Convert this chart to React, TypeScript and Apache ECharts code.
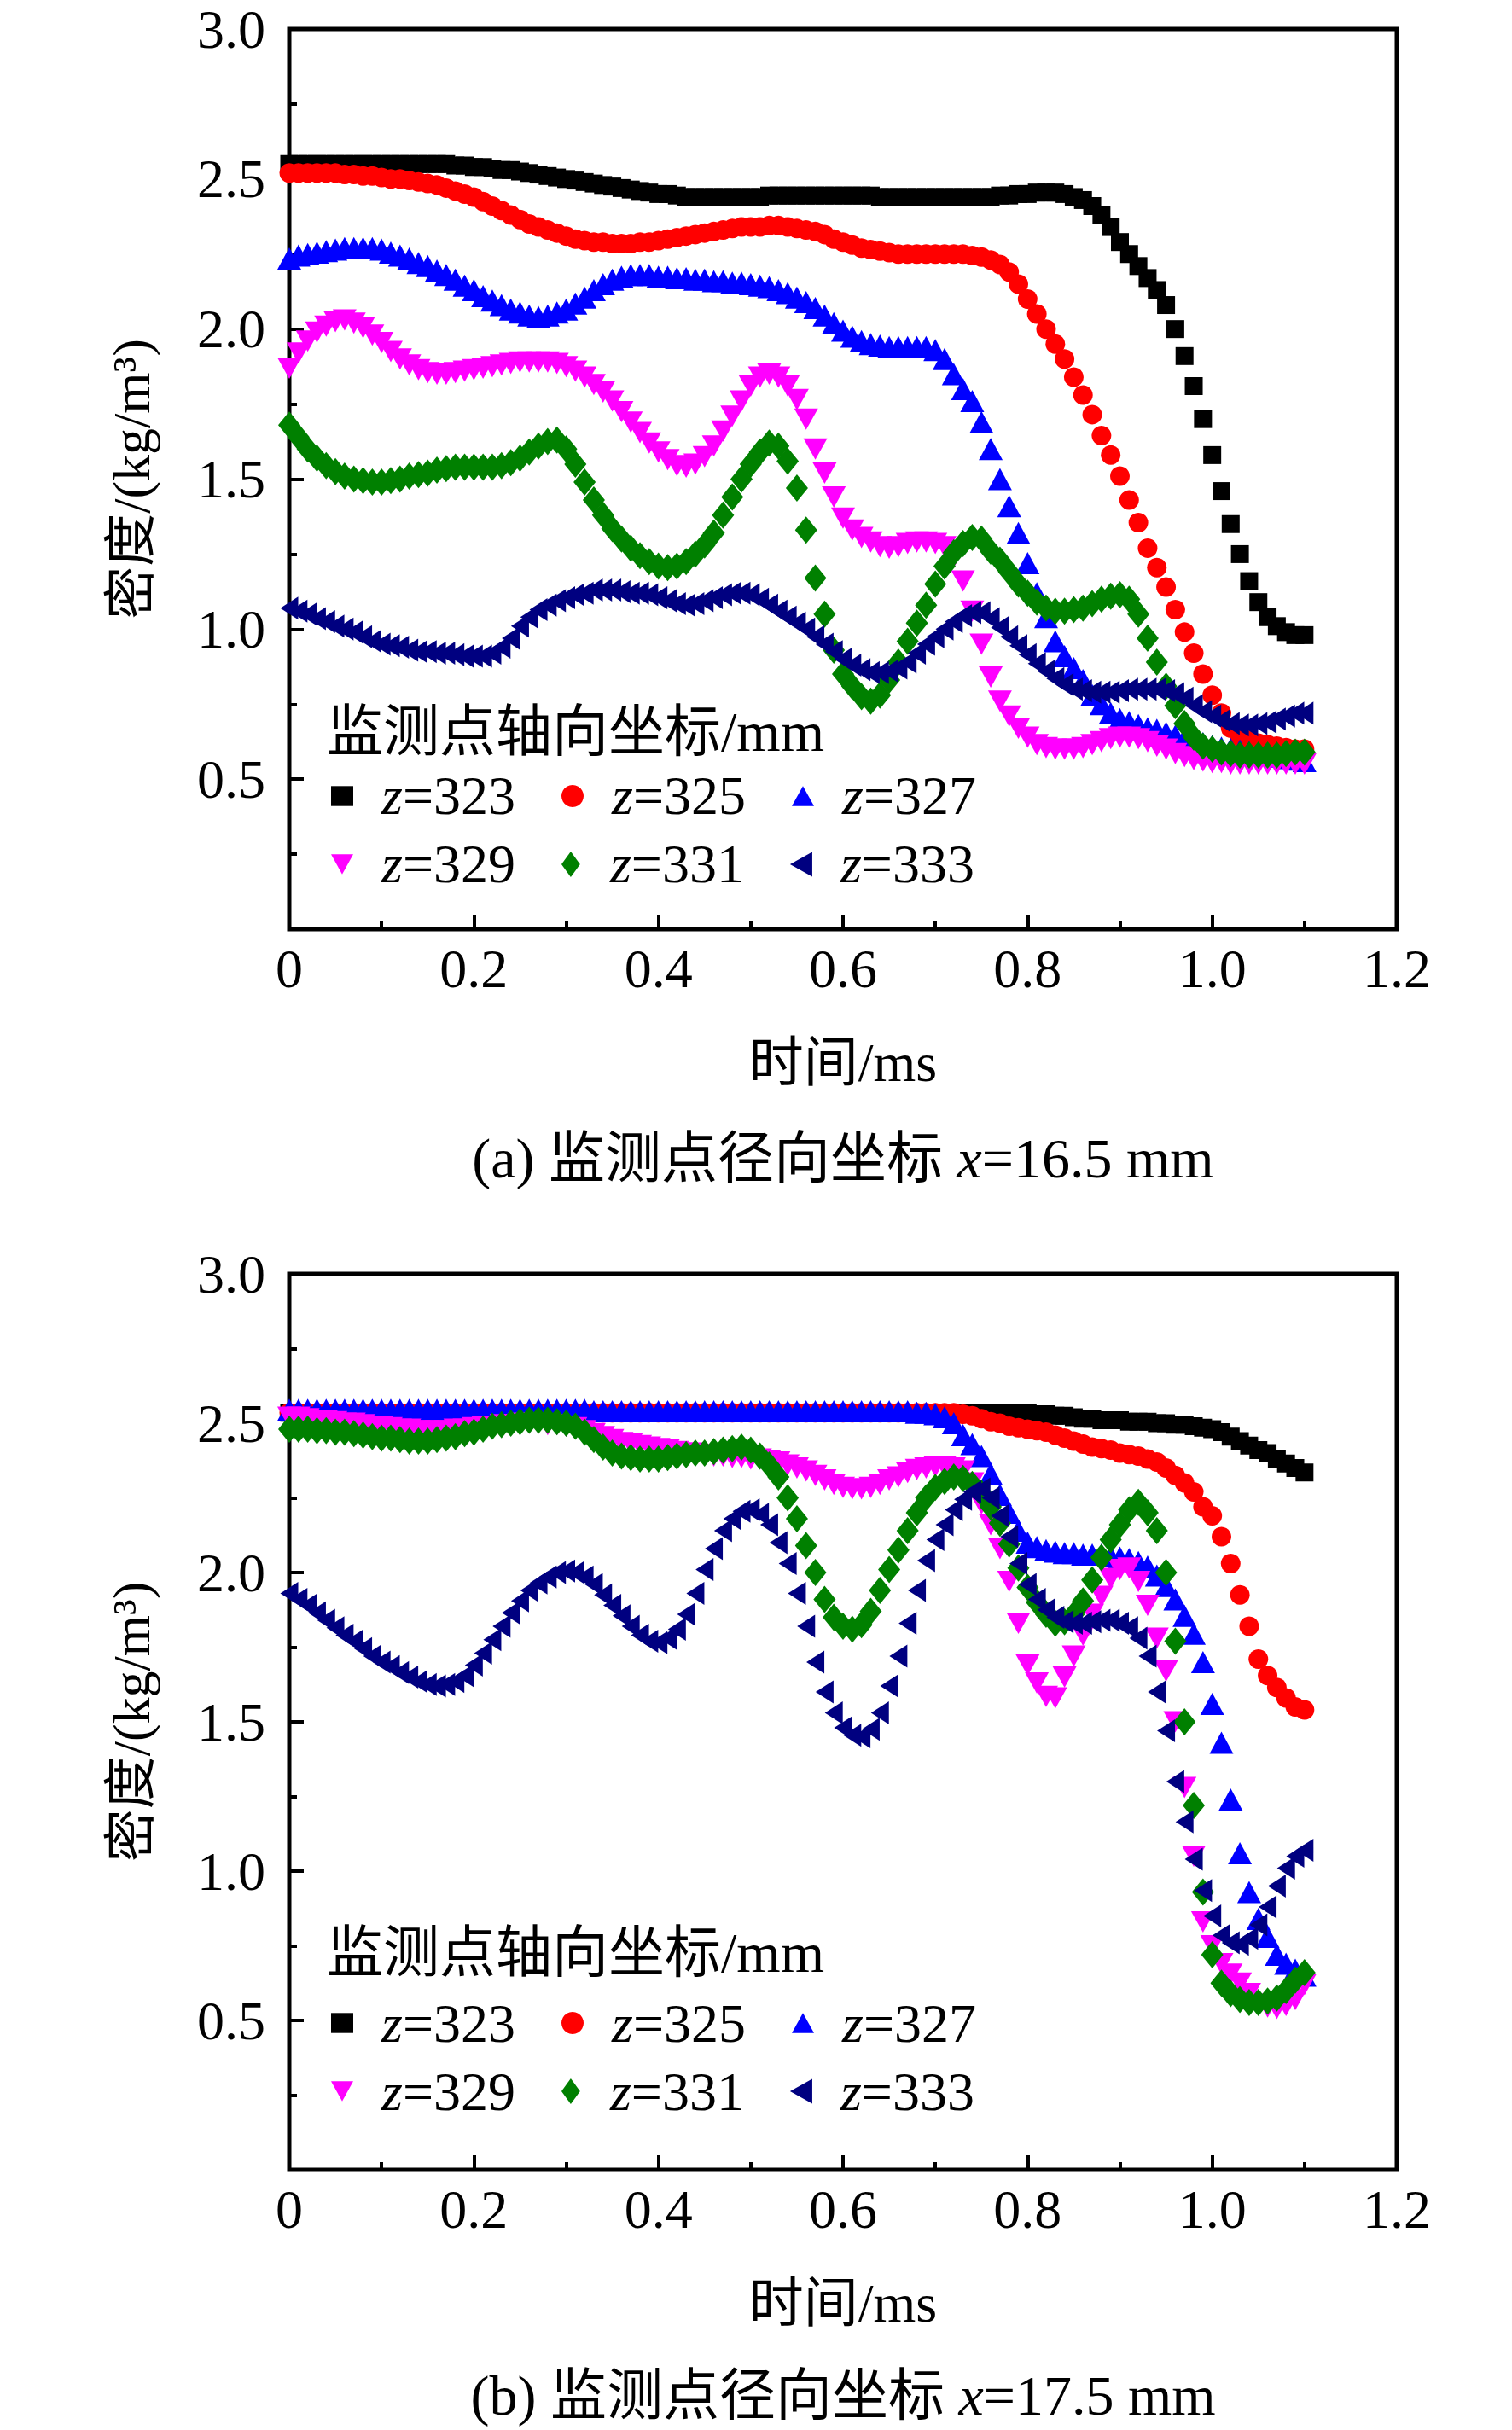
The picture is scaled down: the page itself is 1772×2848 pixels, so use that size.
import { useEffect, useRef } from 'react';
import * as echarts from 'echarts';

const FONT = '"Liberation Serif", "Times New Roman", "Noto Sans CJK SC", serif';

// sample times (ms), one point every 0.01 ms
const TIME_MS = [
  0, 0.01, 0.02, 0.03, 0.04, 0.05, 0.06, 0.07, 0.08, 0.09,
  0.1, 0.11, 0.12, 0.13, 0.14, 0.15, 0.16, 0.17, 0.18, 0.19,
  0.2, 0.21, 0.22, 0.23, 0.24, 0.25, 0.26, 0.27, 0.28, 0.29,
  0.3, 0.31, 0.32, 0.33, 0.34, 0.35, 0.36, 0.37, 0.38, 0.39,
  0.4, 0.41, 0.42, 0.43, 0.44, 0.45, 0.46, 0.47, 0.48, 0.49,
  0.5, 0.51, 0.52, 0.53, 0.54, 0.55, 0.56, 0.57, 0.58, 0.59,
  0.6, 0.61, 0.62, 0.63, 0.64, 0.65, 0.66, 0.67, 0.68, 0.69,
  0.7, 0.71, 0.72, 0.73, 0.74, 0.75, 0.76, 0.77, 0.78, 0.79,
  0.8, 0.81, 0.82, 0.83, 0.84, 0.85, 0.86, 0.87, 0.88, 0.89,
  0.9, 0.91, 0.92, 0.93, 0.94, 0.95, 0.96, 0.97, 0.98, 0.99,
  1.0, 1.01, 1.02, 1.03, 1.04, 1.05, 1.06, 1.07, 1.08, 1.09, 1.1,
];

const SERIES_NAMES = ['z=323', 'z=325', 'z=327', 'z=329', 'z=331', 'z=333'];

// (a) x = 16.5 mm
const A_Z323 = [
  2.55, 2.55, 2.55, 2.55, 2.55, 2.55, 2.55, 2.55, 2.55, 2.55,
  2.55, 2.55, 2.55, 2.55, 2.55, 2.55, 2.55, 2.55, 2.545, 2.545,
  2.54, 2.54, 2.535, 2.53, 2.53, 2.525, 2.52, 2.515, 2.51, 2.505,
  2.5, 2.495, 2.49, 2.485, 2.48, 2.475, 2.47, 2.465, 2.46, 2.455,
  2.45, 2.45, 2.445, 2.44, 2.44, 2.44, 2.44, 2.44, 2.44, 2.44,
  2.44, 2.44, 2.445, 2.445, 2.445, 2.445, 2.445, 2.445, 2.445, 2.445,
  2.445, 2.445, 2.445, 2.445, 2.44, 2.44, 2.44, 2.44, 2.44, 2.44,
  2.44, 2.44, 2.44, 2.44, 2.44, 2.44, 2.44, 2.445, 2.445, 2.45,
  2.45, 2.455, 2.455, 2.455, 2.45, 2.44, 2.43, 2.41, 2.38, 2.34,
  2.29, 2.25, 2.21, 2.17, 2.13, 2.08, 2.0, 1.91, 1.81, 1.7,
  1.58, 1.46, 1.35, 1.25, 1.16, 1.09, 1.04, 1.01, 0.99, 0.98, 0.98,
];
const A_Z325 = [
  2.52, 2.52, 2.52, 2.52, 2.52, 2.52, 2.515, 2.515, 2.51, 2.51,
  2.505, 2.5, 2.5, 2.495, 2.49, 2.485, 2.48, 2.47, 2.46, 2.45,
  2.44, 2.425, 2.41, 2.395, 2.38, 2.365, 2.35, 2.34, 2.33, 2.32,
  2.31, 2.3, 2.295, 2.29, 2.29, 2.285, 2.285, 2.285, 2.29, 2.29,
  2.295, 2.3, 2.305, 2.31, 2.315, 2.32, 2.325, 2.33, 2.335, 2.34,
  2.34, 2.34, 2.345, 2.345, 2.34, 2.335, 2.33, 2.325, 2.315, 2.3,
  2.29, 2.28, 2.27, 2.265, 2.26, 2.255, 2.25, 2.25, 2.25, 2.25,
  2.25, 2.25, 2.25, 2.25, 2.245, 2.24, 2.23, 2.215, 2.19, 2.15,
  2.1, 2.05, 2.0, 1.95, 1.9, 1.84, 1.78, 1.715, 1.645, 1.58,
  1.51, 1.43, 1.355, 1.27, 1.205, 1.14, 1.065, 0.99, 0.92, 0.85,
  0.78, 0.72, 0.67, 0.64, 0.63, 0.62, 0.615, 0.61, 0.605, 0.6, 0.6,
];
const A_Z327 = [
  2.235, 2.245, 2.25, 2.255, 2.26, 2.265, 2.27, 2.27, 2.27, 2.27,
  2.265, 2.255, 2.245, 2.235, 2.22, 2.21, 2.195, 2.18, 2.165, 2.145,
  2.13, 2.11, 2.095, 2.08, 2.065, 2.055, 2.045, 2.04, 2.045, 2.055,
  2.065, 2.085, 2.105, 2.13, 2.15, 2.165, 2.175, 2.18, 2.18, 2.18,
  2.175, 2.175, 2.17, 2.17, 2.165, 2.165, 2.16, 2.16, 2.155, 2.155,
  2.15, 2.145, 2.14, 2.13, 2.12, 2.105, 2.09, 2.07, 2.045, 2.02,
  1.995, 1.975, 1.96, 1.95, 1.945, 1.94, 1.94, 1.94, 1.94, 1.94,
  1.93, 1.9, 1.85, 1.8, 1.76, 1.69, 1.6, 1.5, 1.41, 1.32,
  1.22, 1.12, 1.04, 0.96, 0.91, 0.87, 0.83, 0.78, 0.75, 0.72,
  0.7, 0.69, 0.68, 0.67, 0.665, 0.655, 0.645, 0.635, 0.625, 0.62,
  0.61, 0.605, 0.6, 0.595, 0.59, 0.585, 0.58, 0.575, 0.57, 0.565, 0.56,
];
const A_Z329 = [
  1.87, 1.92, 1.96, 1.99, 2.01, 2.025, 2.03, 2.02, 2.005, 1.98,
  1.955, 1.925, 1.9, 1.88, 1.865, 1.855, 1.85, 1.85, 1.855, 1.86,
  1.865, 1.87, 1.875, 1.88, 1.885, 1.89, 1.89, 1.89, 1.89, 1.885,
  1.875, 1.86, 1.84, 1.815, 1.79, 1.76, 1.725, 1.69, 1.655, 1.62,
  1.59, 1.565, 1.545, 1.54, 1.55, 1.575, 1.61, 1.66, 1.71, 1.76,
  1.81, 1.84, 1.85, 1.84, 1.81, 1.765, 1.7, 1.6, 1.52, 1.44,
  1.37, 1.33, 1.305, 1.29, 1.275, 1.27, 1.275, 1.285, 1.29, 1.29,
  1.285, 1.275, 1.24, 1.16, 1.06, 0.95, 0.84, 0.76, 0.71, 0.67,
  0.64, 0.615, 0.605, 0.6, 0.6, 0.6, 0.605, 0.615, 0.625, 0.635,
  0.64, 0.64, 0.635, 0.625, 0.61, 0.6, 0.585, 0.575, 0.565, 0.56,
  0.555, 0.555, 0.55, 0.55, 0.55, 0.55, 0.55, 0.55, 0.55, 0.55, 0.55,
];
const A_Z331 = [
  1.68, 1.64, 1.6, 1.57, 1.545, 1.525, 1.51, 1.5, 1.495, 1.49,
  1.49, 1.495, 1.5, 1.51, 1.515, 1.52, 1.53, 1.535, 1.54, 1.54,
  1.54, 1.54, 1.54, 1.545, 1.555, 1.57, 1.59, 1.61, 1.625, 1.63,
  1.6, 1.55, 1.49, 1.43, 1.38, 1.335, 1.3, 1.27, 1.245, 1.225,
  1.21, 1.205, 1.21, 1.225, 1.25, 1.28, 1.32, 1.38, 1.44, 1.5,
  1.55, 1.59, 1.62, 1.61, 1.56, 1.47, 1.33, 1.17, 1.05, 0.93,
  0.85, 0.81, 0.775, 0.76, 0.78, 0.83, 0.89, 0.96, 1.02, 1.08,
  1.15, 1.21, 1.255, 1.285, 1.305, 1.3, 1.26, 1.23, 1.19, 1.15,
  1.12, 1.09, 1.07, 1.06, 1.06, 1.065, 1.07, 1.085, 1.1, 1.11,
  1.115, 1.1, 1.05, 0.97, 0.89, 0.81, 0.745, 0.685, 0.64, 0.61,
  0.6, 0.59, 0.585, 0.58, 0.58, 0.58, 0.58, 0.58, 0.585, 0.59, 0.59,
];
const A_Z333 = [
  1.07, 1.06, 1.05, 1.035, 1.025, 1.01, 1.0, 0.99, 0.975, 0.96,
  0.95, 0.945, 0.94, 0.93, 0.925, 0.925, 0.92, 0.92, 0.915, 0.91,
  0.91, 0.91, 0.92, 0.94, 0.97, 1.01, 1.04, 1.065, 1.08, 1.095,
  1.105, 1.115, 1.12, 1.13, 1.13, 1.13, 1.125, 1.12, 1.12, 1.115,
  1.105, 1.095, 1.085, 1.08, 1.085, 1.095, 1.105, 1.115, 1.12, 1.12,
  1.115, 1.1, 1.08, 1.06, 1.04, 1.02, 1.0, 0.975, 0.95, 0.925,
  0.9, 0.88, 0.865, 0.855, 0.855, 0.86, 0.87, 0.89, 0.92, 0.95,
  0.975, 1.0, 1.025, 1.045, 1.055, 1.055, 1.035, 1.005, 0.975, 0.945,
  0.915, 0.885, 0.86, 0.835, 0.815, 0.8, 0.795, 0.79, 0.79, 0.79,
  0.795, 0.8, 0.8, 0.8, 0.8, 0.795, 0.785, 0.77, 0.745, 0.725,
  0.71, 0.695, 0.685, 0.68, 0.68, 0.685, 0.69, 0.7, 0.71, 0.72, 0.72,
];

// (b) x = 17.5 mm
const B_Z323 = [
  2.535, 2.535, 2.535, 2.535, 2.535, 2.535, 2.535, 2.535, 2.535, 2.535,
  2.535, 2.535, 2.535, 2.535, 2.535, 2.535, 2.535, 2.535, 2.535, 2.535,
  2.535, 2.535, 2.535, 2.535, 2.535, 2.535, 2.535, 2.535, 2.535, 2.535,
  2.535, 2.535, 2.535, 2.535, 2.535, 2.535, 2.535, 2.535, 2.535, 2.535,
  2.535, 2.535, 2.535, 2.535, 2.535, 2.535, 2.535, 2.535, 2.535, 2.535,
  2.535, 2.535, 2.535, 2.535, 2.535, 2.535, 2.535, 2.535, 2.535, 2.535,
  2.535, 2.535, 2.535, 2.535, 2.535, 2.535, 2.535, 2.535, 2.535, 2.535,
  2.535, 2.535, 2.535, 2.535, 2.535, 2.535, 2.535, 2.535, 2.535, 2.535,
  2.535, 2.53, 2.53, 2.525, 2.525, 2.52, 2.515, 2.515, 2.51, 2.51,
  2.51, 2.505, 2.505, 2.505, 2.5, 2.5, 2.495, 2.495, 2.49, 2.485,
  2.48, 2.47, 2.455, 2.44, 2.425, 2.41, 2.4, 2.38, 2.365, 2.35, 2.335,
];
const B_Z325 = [
  2.535, 2.535, 2.535, 2.535, 2.535, 2.535, 2.535, 2.535, 2.535, 2.535,
  2.535, 2.535, 2.535, 2.535, 2.535, 2.535, 2.535, 2.535, 2.535, 2.535,
  2.535, 2.535, 2.535, 2.535, 2.535, 2.535, 2.535, 2.535, 2.535, 2.535,
  2.535, 2.535, 2.535, 2.535, 2.535, 2.535, 2.535, 2.535, 2.535, 2.535,
  2.535, 2.535, 2.535, 2.535, 2.535, 2.535, 2.535, 2.535, 2.535, 2.535,
  2.535, 2.535, 2.535, 2.535, 2.535, 2.535, 2.535, 2.535, 2.535, 2.535,
  2.535, 2.535, 2.535, 2.535, 2.535, 2.535, 2.535, 2.535, 2.535, 2.535,
  2.535, 2.535, 2.535, 2.53, 2.525, 2.515, 2.505, 2.5, 2.49, 2.485,
  2.48, 2.475, 2.47, 2.46, 2.45, 2.44, 2.43, 2.42, 2.415, 2.41,
  2.4, 2.395, 2.39, 2.38, 2.37, 2.35, 2.325, 2.3, 2.27, 2.22,
  2.19, 2.12, 2.03, 1.925, 1.82, 1.71, 1.655, 1.615, 1.58, 1.55, 1.54,
];
const B_Z327 = [
  2.545, 2.545, 2.545, 2.545, 2.545, 2.545, 2.545, 2.545, 2.545, 2.545,
  2.545, 2.545, 2.545, 2.545, 2.545, 2.545, 2.545, 2.545, 2.545, 2.545,
  2.545, 2.545, 2.545, 2.545, 2.545, 2.545, 2.545, 2.545, 2.545, 2.545,
  2.545, 2.545, 2.545, 2.54, 2.54, 2.54, 2.54, 2.54, 2.54, 2.54,
  2.54, 2.54, 2.54, 2.54, 2.54, 2.54, 2.54, 2.54, 2.54, 2.54,
  2.54, 2.54, 2.54, 2.54, 2.54, 2.54, 2.54, 2.54, 2.54, 2.54,
  2.54, 2.54, 2.54, 2.54, 2.54, 2.54, 2.54, 2.54, 2.535, 2.535,
  2.53, 2.52, 2.5, 2.46, 2.43, 2.39, 2.33, 2.26, 2.2, 2.14,
  2.1, 2.085, 2.075, 2.07, 2.065, 2.065, 2.06, 2.06, 2.06, 2.055,
  2.05, 2.045, 2.035, 2.02, 1.99, 1.955, 1.91, 1.855, 1.795, 1.7,
  1.56, 1.43, 1.24, 1.06, 0.93, 0.84, 0.78, 0.72, 0.69, 0.67, 0.65,
];
const B_Z329 = [
  2.52, 2.52, 2.515, 2.51, 2.51, 2.505, 2.5, 2.5, 2.495, 2.49,
  2.49, 2.485, 2.48, 2.48, 2.475, 2.475, 2.475, 2.475, 2.48, 2.48,
  2.485, 2.49, 2.49, 2.495, 2.495, 2.5, 2.5, 2.5, 2.495, 2.495,
  2.49, 2.485, 2.475, 2.465, 2.455, 2.445, 2.435, 2.43, 2.425, 2.42,
  2.415, 2.41, 2.405, 2.4, 2.4, 2.395, 2.39, 2.39, 2.385, 2.385,
  2.38, 2.38, 2.375, 2.37, 2.36, 2.35, 2.34, 2.325, 2.31, 2.295,
  2.285, 2.28, 2.28, 2.285, 2.295, 2.31, 2.32, 2.335, 2.345, 2.35,
  2.355, 2.355, 2.35, 2.34, 2.3, 2.23, 2.16, 2.08, 1.97, 1.83,
  1.69, 1.63, 1.585, 1.58, 1.65, 1.72, 1.79, 1.86, 1.92, 1.98,
  2.01, 2.015, 1.97, 1.89, 1.78, 1.67, 1.5, 1.28, 1.05, 0.83,
  0.75, 0.69, 0.655, 0.625, 0.59, 0.555, 0.545, 0.54, 0.55, 0.57, 0.62,
];
const B_Z331 = [
  2.48, 2.48, 2.48, 2.475, 2.475, 2.47, 2.47, 2.465, 2.46, 2.455,
  2.45, 2.45, 2.445, 2.44, 2.44, 2.44, 2.445, 2.45, 2.455, 2.465,
  2.47, 2.48, 2.49, 2.495, 2.5, 2.505, 2.51, 2.51, 2.51, 2.505,
  2.5, 2.49, 2.47, 2.445, 2.42, 2.4, 2.39, 2.385, 2.38, 2.38,
  2.38, 2.385, 2.39, 2.395, 2.4, 2.4, 2.405, 2.41, 2.415, 2.42,
  2.41, 2.39, 2.36, 2.32, 2.25, 2.18, 2.09, 2.0, 1.91, 1.85,
  1.82, 1.81, 1.825, 1.87, 1.94, 2.01, 2.075, 2.14, 2.2, 2.25,
  2.285, 2.305, 2.32, 2.315, 2.295, 2.265, 2.22, 2.165, 2.095, 2.015,
  1.95, 1.9, 1.86, 1.83, 1.835, 1.86, 1.905, 1.975, 2.05, 2.11,
  2.16, 2.21, 2.235, 2.2, 2.14, 2.0, 1.77, 1.5, 1.22, 0.93,
  0.72, 0.625, 0.59, 0.57, 0.56, 0.56, 0.565, 0.575, 0.6, 0.635, 0.66,
];
const B_Z333 = [
  1.93, 1.91, 1.89, 1.865, 1.84, 1.815, 1.79, 1.77, 1.745, 1.72,
  1.7, 1.685, 1.665, 1.65, 1.635, 1.625, 1.62, 1.625, 1.635, 1.655,
  1.69, 1.73, 1.775, 1.82, 1.865, 1.905, 1.94, 1.965, 1.985, 2.0,
  2.005, 2.0, 1.985, 1.96, 1.925, 1.89, 1.855, 1.82, 1.79, 1.77,
  1.765, 1.78, 1.81, 1.86, 1.93, 2.01, 2.08, 2.14, 2.18, 2.205,
  2.21, 2.195, 2.16, 2.1, 2.03, 1.93, 1.82, 1.7, 1.6, 1.53,
  1.48, 1.455, 1.45, 1.475, 1.53, 1.62, 1.72, 1.83, 1.94, 2.04,
  2.11, 2.16, 2.21, 2.245, 2.27, 2.28, 2.25, 2.19, 2.12, 2.03,
  1.96, 1.91, 1.875, 1.85, 1.835, 1.83, 1.83, 1.835, 1.84, 1.84,
  1.83, 1.815, 1.78, 1.72, 1.6, 1.47, 1.3, 1.165, 1.04, 0.935,
  0.85, 0.785, 0.76, 0.755, 0.775, 0.82, 0.88, 0.95, 1.01, 1.05, 1.07,
];

const PANEL_A = [A_Z323, A_Z325, A_Z327, A_Z329, A_Z331, A_Z333];
const PANEL_B = [B_Z323, B_Z325, B_Z327, B_Z329, B_Z331, B_Z333];

const MARKERS = [
  { color: '#000000', symbol: 'rect', size: [21, 21], rotate: 0, icon: 'path://M0,0H10V9H0Z' },
  { color: '#ff0000', symbol: 'circle', size: 23, rotate: 0, icon: 'circle' },
  { color: '#0000ff', symbol: 'triangle', size: [28, 26], rotate: 0, icon: 'path://M5,0L10,9L0,9Z' },
  { color: '#ff00ff', symbol: 'triangle', size: [28, 25], rotate: 180, icon: 'path://M0,0L10,0L5,9Z' },
  { color: '#008000', symbol: 'diamond', size: [26, 32], rotate: 0, icon: 'path://M4,0L8,5.5L4,11L0,5.5Z' },
  { color: '#000080', symbol: 'triangle', size: [27, 21], rotate: 90, icon: 'path://M9,0L9,10L0,5Z' },
];

const GRIDS = [
  { left: 339, top: 34, width: 1298, height: 1055 },
  { left: 339, top: 1493, width: 1298, height: 1050 },
];

const CAPTIONS = [
  { text: '(a) 监测点径向坐标 {i|x}=16.5 mm', y: 1357 },
  { text: '(b) 监测点径向坐标 {i|x}=17.5 mm', y: 2807 },
];
const LEGEND_TITLE = '监测点轴向坐标/mm';
const LEGEND_ROWS = [
  { titleY: 857, rowY: [928, 1008] },
  { titleY: 2288, rowY: [2366, 2446] },
];

const italicRich = (size: number) => ({
  i: { fontStyle: 'italic', fontFamily: FONT, fontSize: size, color: '#000' },
});

export default function App() {
  const chartRef = useRef<HTMLDivElement | null>(null);

  useEffect(() => {
    if (!chartRef.current) {
      return;
    }
    const chart = echarts.init(chartRef.current, undefined, { renderer: 'svg' });

    const xAxes = GRIDS.map((_, gi) => ({
      gridIndex: gi,
      type: 'value',
      min: 0,
      max: 1.2,
      interval: 0.2,
      axisLine: { show: false },
      axisTick: { inside: true, length: 17, lineStyle: { color: '#000', width: 4 } },
      minorTick: { show: true, splitNumber: 2, length: 9, lineStyle: { color: '#000', width: 4 } },
      splitLine: { show: false },
      axisLabel: {
        margin: 14,
        color: '#000',
        fontFamily: FONT,
        fontSize: 64,
        formatter: (v: number) => (v === 0 ? '0' : v.toFixed(1)),
      },
      name: '时间/ms',
      nameLocation: 'middle',
      nameGap: 124,
      nameTextStyle: { color: '#000', fontFamily: FONT, fontSize: 64 },
    }));

    const yAxes = GRIDS.map((_, gi) => ({
      gridIndex: gi,
      type: 'value',
      min: 0,
      max: 3,
      interval: 0.5,
      axisLine: { show: false },
      axisTick: { inside: true, length: 17, lineStyle: { color: '#000', width: 4 } },
      minorTick: { show: true, splitNumber: 2, length: 9, lineStyle: { color: '#000', width: 4 } },
      splitLine: { show: false },
      axisLabel: {
        margin: 28,
        color: '#000',
        fontFamily: FONT,
        fontSize: 64,
        formatter: (v: number) => (v === 0 ? '' : v.toFixed(1)),
      },
      name: '密度/(kg/m³)',
      nameLocation: 'middle',
      nameGap: 154,
      nameTextStyle: { color: '#000', fontFamily: FONT, fontSize: 62 },
    }));

    const series = [PANEL_A, PANEL_B].flatMap((panel, gi) =>
      panel.map((values, si) => ({
        name: SERIES_NAMES[si],
        type: 'scatter',
        xAxisIndex: gi,
        yAxisIndex: gi,
        symbol: MARKERS[si].symbol,
        symbolSize: MARKERS[si].size,
        symbolRotate: MARKERS[si].rotate,
        itemStyle: { color: MARKERS[si].color, opacity: 1 },
        data: values.map((v, i) => [TIME_MS[i], v]),
      })),
    );

    const legends = LEGEND_ROWS.flatMap((panel) =>
      panel.rowY.map((cy, row) => ({
        left: 383,
        top: cy - 32,
        orient: 'horizontal',
        itemWidth: 26,
        itemHeight: 30,
        itemGap: 54,
        symbolRotate: 0,
        selectedMode: false,
        data: SERIES_NAMES.slice(row * 3, row * 3 + 3).map((name, k) => ({
          name,
          icon: MARKERS[row * 3 + k].icon,
        })),
        formatter: (name: string) => `{g|}{i|z}${name.slice(1)}`,
        textStyle: {
          color: '#000',
          fontFamily: FONT,
          fontSize: 64,
          rich: {
            g: { width: 28 },
            ...italicRich(64),
          },
        },
      })),
    );

    const graphic = [
      ...LEGEND_ROWS.map((panel) => ({
        type: 'text',
        x: 383,
        y: panel.titleY,
        style: {
          text: LEGEND_TITLE,
          fill: '#000',
          fontFamily: FONT,
          fontSize: 66,
          align: 'left',
          verticalAlign: 'middle',
        },
      })),
      ...CAPTIONS.map((c) => ({
        type: 'text',
        x: 988,
        y: c.y,
        style: {
          text: c.text,
          fill: '#000',
          fontFamily: FONT,
          fontSize: 66,
          align: 'center',
          verticalAlign: 'middle',
          rich: italicRich(66),
        },
      })),
    ];

    chart.setOption({
      animation: false,
      backgroundColor: '#ffffff',
      grid: GRIDS.map((g) => ({
        ...g,
        show: true,
        borderColor: '#000',
        borderWidth: 5,
        backgroundColor: 'transparent',
        containLabel: false,
      })),
      xAxis: xAxes,
      yAxis: yAxes,
      legend: legends,
      graphic,
      series,
    });

    return () => {
      chart.dispose();
    };
  }, []);

  return (
    <div
      ref={chartRef}
      style={{ position: 'absolute', left: 0, top: 0, width: 1772, height: 2848 }}
    />
  );
}
